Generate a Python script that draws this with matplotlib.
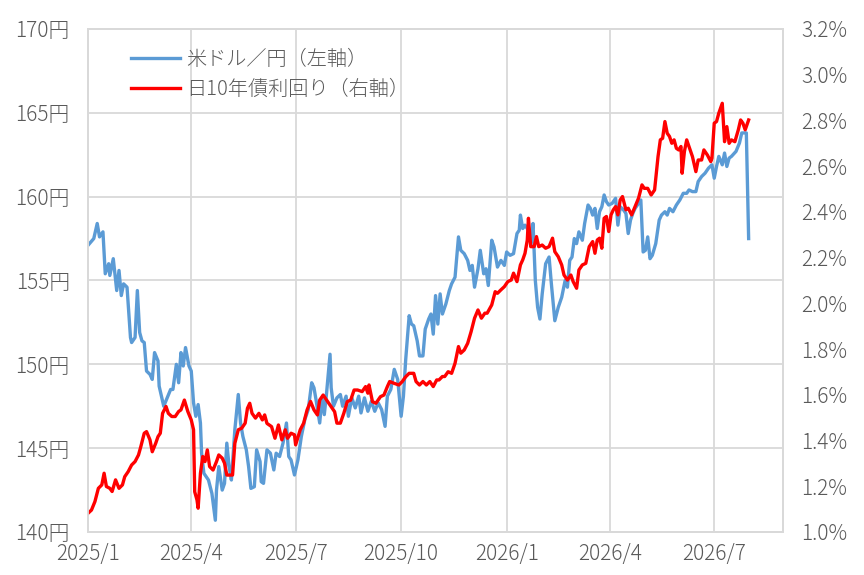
import matplotlib
matplotlib.use('Agg')
import matplotlib.pyplot as plt
import pandas as pd

plt.rcParams['font.family'] = ['Noto Sans CJK JP', 'DejaVu Sans']

# 米ドル/円（左軸）
usd_dates = [
    '2025-01-01', '2025-01-06', '2025-01-09', '2025-01-11', '2025-01-14', '2025-01-16', '2025-01-19',
    '2025-01-20', '2025-01-23', '2025-01-26', '2025-01-28', '2025-01-30', '2025-02-01', '2025-02-04',
    '2025-02-07', '2025-02-08', '2025-02-11', '2025-02-13', '2025-02-15', '2025-02-17', '2025-02-19',
    '2025-02-21', '2025-02-24', '2025-02-26', '2025-02-28', '2025-03-03', '2025-03-04', '2025-03-08',
    '2025-03-11', '2025-03-14', '2025-03-16', '2025-03-19', '2025-03-21', '2025-03-23', '2025-03-25',
    '2025-03-27', '2025-03-30', '2025-04-01', '2025-04-03', '2025-04-05', '2025-04-07', '2025-04-09',
    '2025-04-10', '2025-04-12', '2025-04-16', '2025-04-19', '2025-04-22', '2025-04-23', '2025-04-25',
    '2025-04-28', '2025-04-30', '2025-05-02', '2025-05-04', '2025-05-06', '2025-05-09', '2025-05-12',
    '2025-05-14', '2025-05-16', '2025-05-19', '2025-05-21', '2025-05-23', '2025-05-26', '2025-05-28',
    '2025-05-31', '2025-06-01', '2025-06-03', '2025-06-06', '2025-06-09', '2025-06-12', '2025-06-14',
    '2025-06-17', '2025-06-20', '2025-06-23', '2025-06-25', '2025-06-27', '2025-06-30', '2025-07-03',
    '2025-07-06', '2025-07-09', '2025-07-12', '2025-07-15', '2025-07-17', '2025-07-19', '2025-07-22',
    '2025-07-24', '2025-07-26', '2025-07-28', '2025-07-31', '2025-08-01', '2025-08-03', '2025-08-06',
    '2025-08-09', '2025-08-11', '2025-08-14', '2025-08-16', '2025-08-19', '2025-08-22', '2025-08-25',
    '2025-08-27', '2025-08-30', '2025-09-02', '2025-09-05', '2025-09-08', '2025-09-11', '2025-09-14',
    '2025-09-17', '2025-09-19', '2025-09-22', '2025-09-25', '2025-09-28', '2025-10-01', '2025-10-03',
    '2025-10-05', '2025-10-08', '2025-10-10', '2025-10-12', '2025-10-15', '2025-10-17', '2025-10-20',
    '2025-10-22', '2025-10-25', '2025-10-27', '2025-10-29', '2025-10-31', '2025-11-02', '2025-11-04',
    '2025-11-06', '2025-11-09', '2025-11-12', '2025-11-14', '2025-11-17', '2025-11-20', '2025-11-22',
    '2025-11-25', '2025-11-28', '2025-11-30', '2025-12-02', '2025-12-04', '2025-12-07', '2025-12-09',
    '2025-12-12', '2025-12-14', '2025-12-16', '2025-12-19', '2025-12-21', '2025-12-24', '2025-12-27',
    '2025-12-30', '2026-01-01', '2026-01-04', '2026-01-07', '2026-01-10', '2026-01-12', '2026-01-13',
    '2026-01-15', '2026-01-17', '2026-01-20', '2026-01-22', '2026-01-24', '2026-01-26', '2026-01-28',
    '2026-01-30', '2026-02-01', '2026-02-04', '2026-02-07', '2026-02-09', '2026-02-12', '2026-02-15',
    '2026-02-18', '2026-02-21', '2026-02-23', '2026-02-25', '2026-02-27', '2026-03-01', '2026-03-03',
    '2026-03-05', '2026-03-08', '2026-03-10', '2026-03-13', '2026-03-15', '2026-03-17', '2026-03-19',
    '2026-03-21', '2026-03-23', '2026-03-25', '2026-03-27', '2026-03-29', '2026-03-31', '2026-04-03',
    '2026-04-06', '2026-04-08', '2026-04-10', '2026-04-13', '2026-04-15', '2026-04-17', '2026-04-19',
    '2026-04-21', '2026-04-23', '2026-04-26', '2026-04-28', '2026-04-30', '2026-05-02', '2026-05-04',
    '2026-05-06', '2026-05-08', '2026-05-11', '2026-05-14', '2026-05-16', '2026-05-19', '2026-05-21',
    '2026-05-23', '2026-05-26', '2026-05-29', '2026-06-01', '2026-06-04', '2026-06-07', '2026-06-09',
    '2026-06-12', '2026-06-15', '2026-06-17', '2026-06-20', '2026-06-23', '2026-06-26', '2026-06-29',
    '2026-07-01', '2026-07-03', '2026-07-05', '2026-07-08', '2026-07-10', '2026-07-12', '2026-07-14',
    '2026-07-16', '2026-07-20', '2026-07-23', '2026-07-25', '2026-07-27', '2026-07-29', '2026-07-31',
]
usd_jpy = [
    157.1, 157.5, 158.4, 157.6, 157.9, 155.4, 156.0,
    155.3, 156.3, 154.4, 155.6, 154.1, 154.8, 154.6,
    151.6, 151.3, 151.6, 154.4, 151.9, 151.4, 151.3,
    149.6, 149.4, 149.1, 150.7, 150.2, 148.7, 147.5,
    148.0, 148.5, 148.5, 150.0, 148.9, 150.7, 149.9,
    151.0, 149.9, 149.6, 147.7, 146.9, 147.6, 146.5,
    144.7, 143.5, 143.1, 142.3, 140.7, 142.5, 143.9,
    142.5, 142.9, 145.3, 143.9, 143.1, 146.1, 148.2,
    146.5, 145.7, 144.9, 143.9, 142.6, 142.7, 144.9,
    144.2, 143.0, 142.9, 144.9, 144.7, 143.7, 144.7,
    144.5, 145.3, 146.5, 144.5, 144.3, 143.4, 144.3,
    145.7, 146.7, 147.3, 148.9, 148.6, 147.8, 146.5,
    148.0, 147.0, 148.3, 150.6, 148.6, 147.5, 148.0,
    148.2, 147.5, 148.1, 146.9, 148.0, 147.4, 148.1,
    147.1, 148.0, 147.2, 147.8, 147.2, 147.7, 147.3,
    146.3, 148.1, 148.5, 149.7, 149.1, 146.9, 148.1,
    150.3, 152.9, 152.4, 152.3, 151.4, 150.5, 150.5,
    152.1, 152.7, 153.0, 151.8, 154.1, 152.4, 154.2,
    153.0, 153.6, 154.4, 154.8, 155.2, 157.6, 156.8,
    156.6, 156.2, 155.6, 155.9, 154.6, 155.7, 156.8,
    155.4, 155.7, 154.7, 157.4, 157.0, 155.8, 156.2,
    155.9, 156.7, 156.5, 156.6, 157.8, 158.0, 158.9,
    158.1, 158.3, 158.0, 157.3, 158.4, 155.0, 153.4,
    152.7, 154.2, 156.0, 156.4, 154.8, 152.6, 153.4,
    154.0, 155.0, 154.6, 156.2, 156.4, 157.5, 157.2,
    157.9, 157.4, 158.4, 159.5, 159.3, 158.9, 159.3,
    158.1, 159.1, 159.4, 160.1, 159.7, 159.5, 159.6,
    159.9, 158.3, 159.4, 159.2, 159.0, 157.8, 158.6,
    159.0, 159.3, 159.6, 159.8, 156.7, 156.8, 157.6,
    156.3, 156.5, 157.2, 158.6, 158.9, 159.1, 158.9,
    159.3, 159.1, 159.5, 159.8, 160.2, 160.2, 160.4,
    160.3, 160.3, 160.9, 161.2, 161.4, 161.7, 161.9,
    161.1, 161.8, 162.4, 161.9, 162.6, 161.8, 162.3,
    162.4, 162.7, 163.2, 163.8, 163.8, 163.8, 157.5,
]

# 日10年債利回り（右軸, %）
jgb_dates = [
    '2025-01-01', '2025-01-04', '2025-01-07', '2025-01-10', '2025-01-13', '2025-01-15', '2025-01-17',
    '2025-01-20', '2025-01-22', '2025-01-25', '2025-01-28', '2025-01-31', '2025-02-02', '2025-02-05',
    '2025-02-08', '2025-02-11', '2025-02-14', '2025-02-16', '2025-02-19', '2025-02-21', '2025-02-24',
    '2025-02-26', '2025-03-01', '2025-03-03', '2025-03-05', '2025-03-07', '2025-03-10', '2025-03-12',
    '2025-03-15', '2025-03-18', '2025-03-21', '2025-03-23', '2025-03-26', '2025-03-29', '2025-04-01',
    '2025-04-03', '2025-04-04', '2025-04-06', '2025-04-07', '2025-04-09', '2025-04-11', '2025-04-13',
    '2025-04-15', '2025-04-17', '2025-04-20', '2025-04-23', '2025-04-25', '2025-04-28', '2025-04-30',
    '2025-05-02', '2025-05-07', '2025-05-09', '2025-05-12', '2025-05-15', '2025-05-18', '2025-05-20',
    '2025-05-22', '2025-05-24', '2025-05-27', '2025-05-30', '2025-06-02', '2025-06-04', '2025-06-06',
    '2025-06-10', '2025-06-13', '2025-06-16', '2025-06-19', '2025-06-22', '2025-06-24', '2025-06-27',
    '2025-06-30', '2025-07-01', '2025-07-05', '2025-07-08', '2025-07-11', '2025-07-14', '2025-07-17',
    '2025-07-20', '2025-07-22', '2025-07-25', '2025-07-28', '2025-07-31', '2025-08-04', '2025-08-06',
    '2025-08-09', '2025-08-12', '2025-08-15', '2025-08-18', '2025-08-21', '2025-08-24', '2025-08-28',
    '2025-08-31', '2025-09-02', '2025-09-03', '2025-09-06', '2025-09-09', '2025-09-13', '2025-09-16',
    '2025-09-19', '2025-09-21', '2025-09-25', '2025-09-29', '2025-10-02', '2025-10-05', '2025-10-08',
    '2025-10-12', '2025-10-14', '2025-10-17', '2025-10-20', '2025-10-23', '2025-10-26', '2025-10-29',
    '2025-11-01', '2025-11-03', '2025-11-06', '2025-11-08', '2025-11-11', '2025-11-14', '2025-11-17',
    '2025-11-20', '2025-11-22', '2025-11-25', '2025-11-28', '2025-12-01', '2025-12-04', '2025-12-07',
    '2025-12-10', '2025-12-13', '2025-12-15', '2025-12-19', '2025-12-22', '2025-12-24', '2025-12-27',
    '2025-12-30', '2026-01-02', '2026-01-05', '2026-01-07', '2026-01-10', '2026-01-13', '2026-01-15',
    '2026-01-17', '2026-01-19', '2026-01-20', '2026-01-22', '2026-01-25', '2026-01-27', '2026-01-29',
    '2026-02-01', '2026-02-04', '2026-02-07', '2026-02-10', '2026-02-12', '2026-02-15', '2026-02-18',
    '2026-02-20', '2026-02-23', '2026-02-26', '2026-02-28', '2026-03-03', '2026-03-05', '2026-03-08',
    '2026-03-11', '2026-03-14', '2026-03-17', '2026-03-19', '2026-03-21', '2026-03-23', '2026-03-25',
    '2026-03-27', '2026-03-29', '2026-03-31', '2026-04-02', '2026-04-04', '2026-04-06', '2026-04-08',
    '2026-04-10', '2026-04-12', '2026-04-15', '2026-04-17', '2026-04-20', '2026-04-23', '2026-04-26',
    '2026-04-29', '2026-05-01', '2026-05-04', '2026-05-07', '2026-05-10', '2026-05-13', '2026-05-15',
    '2026-05-17', '2026-05-19', '2026-05-21', '2026-05-23', '2026-05-25', '2026-05-27', '2026-05-29',
    '2026-05-31', '2026-06-02', '2026-06-03', '2026-06-05', '2026-06-07', '2026-06-09', '2026-06-12',
    '2026-06-13', '2026-06-15', '2026-06-17', '2026-06-20', '2026-06-22', '2026-06-25', '2026-06-28',
    '2026-06-29', '2026-07-01', '2026-07-03', '2026-07-05', '2026-07-08', '2026-07-10', '2026-07-12',
    '2026-07-14', '2026-07-16', '2026-07-19', '2026-07-22', '2026-07-24', '2026-07-26', '2026-07-28',
    '2026-07-31',
]
jgb_10y = [
    1.082, 1.096, 1.133, 1.191, 1.206, 1.257, 1.199,
    1.191, 1.177, 1.228, 1.191, 1.206, 1.242, 1.264,
    1.293, 1.308, 1.337, 1.373, 1.432, 1.439, 1.403,
    1.351, 1.388, 1.417, 1.432, 1.519, 1.549, 1.519,
    1.505, 1.505, 1.527, 1.534, 1.577, 1.527, 1.490,
    1.447, 1.176, 1.140, 1.104, 1.257, 1.330, 1.308,
    1.359, 1.286, 1.271, 1.308, 1.337, 1.323, 1.301,
    1.249, 1.249, 1.388, 1.447, 1.454, 1.476, 1.541,
    1.563, 1.519, 1.498, 1.519, 1.490, 1.512, 1.475,
    1.461, 1.410, 1.468, 1.403, 1.447, 1.410, 1.432,
    1.425, 1.381, 1.447, 1.476, 1.534, 1.571, 1.534,
    1.512, 1.577, 1.599, 1.577, 1.555, 1.526, 1.476,
    1.476, 1.519, 1.570, 1.577, 1.621, 1.621, 1.614,
    1.636, 1.607, 1.643, 1.570, 1.563, 1.592, 1.599,
    1.636, 1.658, 1.650, 1.643, 1.658, 1.679, 1.694,
    1.694, 1.658, 1.643, 1.658, 1.643, 1.658, 1.636,
    1.665, 1.665, 1.680, 1.680, 1.701, 1.694, 1.738,
    1.811, 1.782, 1.796, 1.825, 1.876, 1.935, 1.971,
    1.935, 1.957, 1.957, 1.993, 2.051, 2.044, 2.059,
    2.073, 2.095, 2.102, 2.132, 2.095, 2.168, 2.190,
    2.219, 2.277, 2.372, 2.248, 2.248, 2.292, 2.248,
    2.255, 2.241, 2.248, 2.285, 2.226, 2.204, 2.168,
    2.124, 2.102, 2.124, 2.095, 2.066, 2.146, 2.168,
    2.175, 2.248, 2.270, 2.219, 2.277, 2.285, 2.241,
    2.372, 2.380, 2.314, 2.387, 2.409, 2.423, 2.387,
    2.452, 2.467, 2.409, 2.416, 2.387, 2.423, 2.460,
    2.518, 2.503, 2.503, 2.474, 2.496, 2.642, 2.715,
    2.722, 2.795, 2.744, 2.730, 2.700, 2.715, 2.678,
    2.671, 2.686, 2.569, 2.664, 2.715, 2.686, 2.642,
    2.620, 2.576, 2.627, 2.627, 2.671, 2.649, 2.620,
    2.635, 2.788, 2.795, 2.832, 2.875, 2.707, 2.773,
    2.700, 2.715, 2.707, 2.759, 2.802, 2.788, 2.759,
    2.802,
]

x_ticks = ['2025-01-01', '2025-04-01', '2025-07-01', '2025-10-01',
           '2026-01-01', '2026-04-01', '2026-07-01']
x_labels = ['2025/1', '2025/4', '2025/7', '2025/10', '2026/1', '2026/4', '2026/7']
left_ticks = [140, 145, 150, 155, 160, 165, 170]
right_ticks = [1.0, 1.2, 1.4, 1.6, 1.8, 2.0, 2.2, 2.4, 2.6, 2.8, 3.0, 3.2]

blue = '#5B9BD5'
red = '#FF0000'
grid_c = '#D9D9D9'
text_c = '#595959'

fig = plt.figure(figsize=(8.64, 5.75), dpi=100)
ax = fig.add_axes([0.1019, 0.0748, 0.8044, 0.8748])
ax2 = ax.twinx()

l1, = ax.plot(pd.to_datetime(usd_dates), usd_jpy, color=blue, lw=2.4, label='米ドル／円（左軸）')
l2, = ax2.plot(pd.to_datetime(jgb_dates), jgb_10y, color=red, lw=2.4, label='日10年債利回り（右軸）')

ax.set_xlim(pd.Timestamp('2025-01-01'), pd.Timestamp('2026-08-30'))
ax.set_ylim(140, 170)
ax2.set_ylim(1.0, 3.2)

ax.set_xticks(pd.to_datetime(x_ticks))
ax.set_xticklabels(x_labels)
ax.set_yticks(left_ticks)
ax.set_yticklabels([f'{v}円' for v in left_ticks])
ax2.set_yticks(right_ticks)
ax2.set_yticklabels([f'{v:.1f}%' for v in right_ticks])

ax.grid(True, color=grid_c, lw=1.3)
ax.set_axisbelow(True)
for a in (ax, ax2):
    for s in a.spines.values():
        s.set_color(grid_c)
        s.set_linewidth(1.3)
    a.tick_params(length=0, labelsize=15, colors=text_c)
    for t in a.get_xticklabels() + a.get_yticklabels():
        t.set_fontweight('light')
ax.tick_params(axis='y', pad=13)
ax.tick_params(axis='x', pad=8)
ax2.tick_params(axis='y', pad=13)

leg = ax2.legend(handles=[l1, l2], loc='upper left', bbox_to_anchor=(0.045, 0.985),
                 frameon=False, fontsize=14.5, handlelength=2.4, handletextpad=0.3,
                 labelspacing=0.45, borderaxespad=0.2)
for t in leg.get_texts():
    t.set_color(text_c)
    t.set_fontweight('light')

fig.savefig('out.png', dpi=100)
